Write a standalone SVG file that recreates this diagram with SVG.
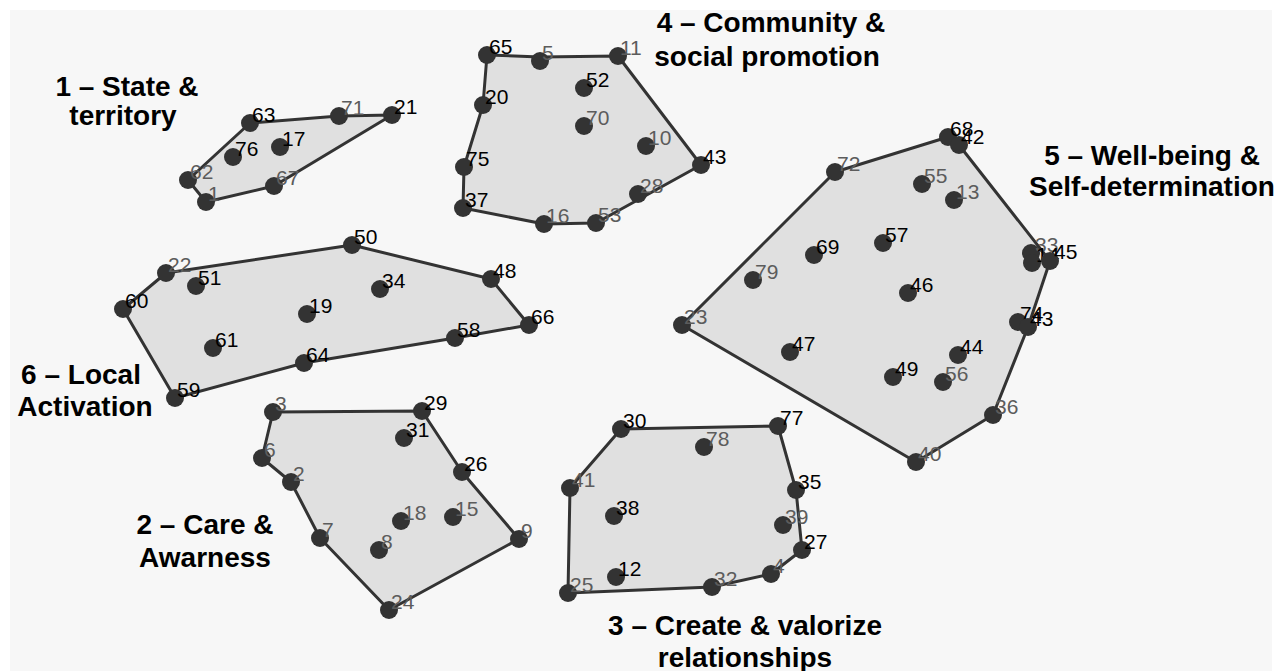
<svg xmlns="http://www.w3.org/2000/svg" width="1276" height="671" viewBox="0 0 1276 671">
<style>
.bg{fill:#f7f7f7}
.hf{fill:#e0e0e0;stroke:none}
.hs{fill:none;stroke:#333;stroke-width:3;stroke-linejoin:round}
.pt{fill:#333}
.lb{font-family:"Liberation Sans",Arial,sans-serif;font-size:21px;fill:#000}
.g{fill:#5c5c5c}
.tt{font-family:"Liberation Sans",Arial,sans-serif;font-size:28px;font-weight:bold;fill:#000;text-anchor:middle}
</style>
<rect x="0" y="0" width="1276" height="671" fill="#fff"/>
<rect class="bg" x="10" y="10" width="1262" height="661"/>

<g id="clusters">
<g id="cluster1"><polygon class="hf" points="250,123 339,116 392,115 274,186 206,202 188,180"/>
<text class="tt" x="127" y="96">1 – State &amp;</text><text class="tt" x="123" y="125">territory</text></g>
<g id="cluster4"><polygon class="hf" points="487,55 540,57 618,56 701,165 596,223 544,224 463,208 464,167 483,105"/>
<text class="tt" x="771" y="32">4 – Community &amp;</text><text class="tt" x="767" y="66">social promotion</text></g>
<g id="cluster6"><polygon class="hf" points="123,309 166,273 352,245 491,279 529,325 455,338 304,363 175,398"/>
<text class="tt" x="81" y="384">6 – Local</text><text class="tt" x="85" y="416">Activation</text></g>
<g id="cluster5"><polygon class="hf" points="682,325 835,172 948,137 959,145 1050,261 1028,327 993,415 916,462"/>
<text class="tt" x="1152" y="165">5 – Well-being &amp;</text><text class="tt" x="1152" y="196">Self-determination</text></g>
<g id="cluster2"><polygon class="hf" points="273,412 422,411 462,472 519,539 389,610 320,538 291,482 262,458"/>
<text class="tt" x="205" y="534">2 – Care &amp;</text><text class="tt" x="205" y="567">Awarness</text></g>
<g id="cluster3"><polygon class="hf" points="621,429 778,426 796,490 802,550 771,574 712,587 568,593 570,488"/>
<text class="tt" x="745" y="635">3 – Create &amp; valorize</text><text class="tt" x="745" y="667">relationships</text></g>
</g>

<g id="connectors">
<polygon class="hs" points="250,123 339,116 392,115 274,186 206,202 188,180"/>
<polygon class="hs" points="487,55 540,57 618,56 701,165 596,223 544,224 463,208 464,167 483,105"/>
<polygon class="hs" points="123,309 166,273 352,245 491,279 529,325 455,338 304,363 175,398"/>
<polygon class="hs" points="682,325 835,172 948,137 959,145 1050,261 1028,327 993,415 916,462"/>
<polygon class="hs" points="273,412 422,411 462,472 519,539 389,610 320,538 291,482 262,458"/>
<polygon class="hs" points="621,429 778,426 796,490 802,550 771,574 712,587 568,593 570,488"/>
</g>

<g id="nodes">
<g id="n1"><circle class="pt" cx="206" cy="202" r="9"/><text class="lb g" x="208" y="201">1</text></g>
<g id="n17"><circle class="pt" cx="280" cy="147" r="9"/><text class="lb" x="282" y="146">17</text></g>
<g id="n21"><circle class="pt" cx="392" cy="115" r="9"/><text class="lb" x="394" y="114">21</text></g>
<g id="n62"><circle class="pt" cx="188" cy="180" r="9"/><text class="lb g" x="190" y="179">62</text></g>
<g id="n63"><circle class="pt" cx="250" cy="123" r="9"/><text class="lb" x="252" y="122">63</text></g>
<g id="n67"><circle class="pt" cx="274" cy="186" r="9"/><text class="lb g" x="276" y="185">67</text></g>
<g id="n71"><circle class="pt" cx="339" cy="116" r="9"/><text class="lb g" x="341" y="115">71</text></g>
<g id="n76"><circle class="pt" cx="233" cy="157" r="9"/><text class="lb" x="235" y="156">76</text></g>

<g id="n65"><circle class="pt" cx="487" cy="55" r="9"/><text class="lb" x="489" y="54">65</text></g>
<g id="n5"><circle class="pt" cx="540" cy="61" r="9"/><text class="lb g" x="542" y="60">5</text></g>
<g id="n11"><circle class="pt" cx="618" cy="56" r="9"/><text class="lb g" x="620" y="55">11</text></g>
<g id="n52"><circle class="pt" cx="584" cy="88" r="9"/><text class="lb" x="586" y="87">52</text></g>
<g id="n20"><circle class="pt" cx="483" cy="105" r="9"/><text class="lb" x="485" y="104">20</text></g>
<g id="n70"><circle class="pt" cx="584" cy="126" r="9"/><text class="lb g" x="586" y="125">70</text></g>
<g id="n10"><circle class="pt" cx="646" cy="146" r="9"/><text class="lb g" x="648" y="145">10</text></g>
<g id="n75"><circle class="pt" cx="464" cy="167" r="9"/><text class="lb" x="466" y="166">75</text></g>
<g id="n43"><circle class="pt" cx="701" cy="165" r="9"/><text class="lb" x="703" y="164">43</text></g>
<g id="n28"><circle class="pt" cx="638" cy="194" r="9"/><text class="lb g" x="640" y="193">28</text></g>
<g id="n37"><circle class="pt" cx="463" cy="208" r="9"/><text class="lb" x="465" y="207">37</text></g>
<g id="n16"><circle class="pt" cx="544" cy="224" r="9"/><text class="lb g" x="546" y="223">16</text></g>
<g id="n53"><circle class="pt" cx="596" cy="223" r="9"/><text class="lb g" x="598" y="222">53</text></g>

<g id="n50"><circle class="pt" cx="352" cy="245" r="9"/><text class="lb" x="354" y="244">50</text></g>
<g id="n22"><circle class="pt" cx="166" cy="273" r="9"/><text class="lb g" x="168" y="272">22</text></g>
<g id="n51"><circle class="pt" cx="196" cy="286" r="9"/><text class="lb" x="198" y="285">51</text></g>
<g id="n48"><circle class="pt" cx="491" cy="279" r="9"/><text class="lb" x="493" y="278">48</text></g>
<g id="n34"><circle class="pt" cx="380" cy="289" r="9"/><text class="lb" x="382" y="288">34</text></g>
<g id="n60"><circle class="pt" cx="123" cy="309" r="9"/><text class="lb" x="125" y="308">60</text></g>
<g id="n19"><circle class="pt" cx="307" cy="314" r="9"/><text class="lb" x="309" y="313">19</text></g>
<g id="n66"><circle class="pt" cx="529" cy="325" r="9"/><text class="lb" x="531" y="324">66</text></g>
<g id="n58"><circle class="pt" cx="455" cy="338" r="9"/><text class="lb" x="457" y="337">58</text></g>
<g id="n61"><circle class="pt" cx="213" cy="348" r="9"/><text class="lb" x="215" y="347">61</text></g>
<g id="n64"><circle class="pt" cx="304" cy="363" r="9"/><text class="lb" x="306" y="362">64</text></g>
<g id="n59"><circle class="pt" cx="175" cy="398" r="9"/><text class="lb" x="177" y="397">59</text></g>

<g id="n68"><circle class="pt" cx="948" cy="137" r="9"/><text class="lb" x="950" y="136">68</text></g>
<g id="n42"><circle class="pt" cx="959" cy="145" r="9"/><text class="lb" x="961" y="144">42</text></g>
<g id="n72"><circle class="pt" cx="835" cy="172" r="9"/><text class="lb g" x="837" y="171">72</text></g>
<g id="n55"><circle class="pt" cx="922" cy="184" r="9"/><text class="lb g" x="924" y="183">55</text></g>
<g id="n13"><circle class="pt" cx="954" cy="200" r="9"/><text class="lb g" x="956" y="199">13</text></g>
<g id="n57"><circle class="pt" cx="883" cy="243" r="9"/><text class="lb" x="885" y="242">57</text></g>
<g id="n69"><circle class="pt" cx="814" cy="255" r="9"/><text class="lb" x="816" y="254">69</text></g>
<g id="n33"><circle class="pt" cx="1031" cy="253" r="9"/><text class="lb g" x="1035" y="252">33</text></g>
<g id="n14"><circle class="pt" cx="1032" cy="263" r="9"/><text class="lb" x="1036" y="262">14</text></g>
<g id="n45"><circle class="pt" cx="1050" cy="261" r="9"/><text class="lb" x="1054" y="259">45</text></g>
<g id="n79"><circle class="pt" cx="753" cy="280" r="9"/><text class="lb g" x="755" y="279">79</text></g>
<g id="n46"><circle class="pt" cx="908" cy="293" r="9"/><text class="lb" x="910" y="292">46</text></g>
<g id="n23"><circle class="pt" cx="682" cy="325" r="9"/><text class="lb g" x="684" y="324">23</text></g>
<g id="n74"><circle class="pt" cx="1018" cy="322" r="9"/><text class="lb" x="1020" y="321">74</text></g>
<g id="n73"><circle class="pt" cx="1028" cy="327" r="9"/><text class="lb" x="1030" y="326">43</text></g>
<g id="n47"><circle class="pt" cx="790" cy="352" r="9"/><text class="lb" x="792" y="351">47</text></g>
<g id="n44"><circle class="pt" cx="958" cy="355" r="9"/><text class="lb" x="960" y="354">44</text></g>
<g id="n49"><circle class="pt" cx="893" cy="377" r="9"/><text class="lb" x="895" y="376">49</text></g>
<g id="n56"><circle class="pt" cx="943" cy="382" r="9"/><text class="lb g" x="945" y="381">56</text></g>
<g id="n36"><circle class="pt" cx="993" cy="415" r="9"/><text class="lb g" x="995" y="414">36</text></g>
<g id="n40"><circle class="pt" cx="916" cy="462" r="9"/><text class="lb g" x="918" y="461">40</text></g>

<g id="n3"><circle class="pt" cx="273" cy="412" r="9"/><text class="lb g" x="275" y="411">3</text></g>
<g id="n29"><circle class="pt" cx="422" cy="411" r="9"/><text class="lb" x="424" y="410">29</text></g>
<g id="n31"><circle class="pt" cx="404" cy="438" r="9"/><text class="lb" x="406" y="437">31</text></g>
<g id="n6"><circle class="pt" cx="262" cy="458" r="9"/><text class="lb g" x="264" y="457">6</text></g>
<g id="n26"><circle class="pt" cx="462" cy="472" r="9"/><text class="lb" x="464" y="471">26</text></g>
<g id="n2"><circle class="pt" cx="291" cy="482" r="9"/><text class="lb g" x="293" y="481">2</text></g>
<g id="n18"><circle class="pt" cx="401" cy="521" r="9"/><text class="lb g" x="403" y="520">18</text></g>
<g id="n15"><circle class="pt" cx="453" cy="517" r="9"/><text class="lb g" x="455" y="516">15</text></g>
<g id="n7"><circle class="pt" cx="320" cy="538" r="9"/><text class="lb g" x="322" y="537">7</text></g>
<g id="n9"><circle class="pt" cx="519" cy="539" r="9"/><text class="lb g" x="521" y="538">9</text></g>
<g id="n8"><circle class="pt" cx="379" cy="550" r="9"/><text class="lb g" x="381" y="549">8</text></g>
<g id="n24"><circle class="pt" cx="389" cy="610" r="9"/><text class="lb g" x="391" y="609">24</text></g>

<g id="n30"><circle class="pt" cx="621" cy="429" r="9"/><text class="lb" x="623" y="428">30</text></g>
<g id="n77"><circle class="pt" cx="778" cy="426" r="9"/><text class="lb" x="780" y="425">77</text></g>
<g id="n78"><circle class="pt" cx="704" cy="447" r="9"/><text class="lb g" x="706" y="446">78</text></g>
<g id="n41"><circle class="pt" cx="570" cy="488" r="9"/><text class="lb g" x="572" y="487">41</text></g>
<g id="n35"><circle class="pt" cx="796" cy="490" r="9"/><text class="lb" x="798" y="489">35</text></g>
<g id="n38"><circle class="pt" cx="614" cy="516" r="9"/><text class="lb" x="616" y="515">38</text></g>
<g id="n39"><circle class="pt" cx="783" cy="525" r="9"/><text class="lb g" x="785" y="524">39</text></g>
<g id="n27"><circle class="pt" cx="802" cy="550" r="9"/><text class="lb" x="804" y="549">27</text></g>
<g id="n12"><circle class="pt" cx="616" cy="577" r="9"/><text class="lb" x="618" y="576">12</text></g>
<g id="n4"><circle class="pt" cx="771" cy="574" r="9"/><text class="lb g" x="773" y="573">4</text></g>
<g id="n32"><circle class="pt" cx="712" cy="587" r="9"/><text class="lb g" x="714" y="586">32</text></g>
<g id="n25"><circle class="pt" cx="568" cy="593" r="9"/><text class="lb g" x="570" y="592">25</text></g>
</g>
</svg>
